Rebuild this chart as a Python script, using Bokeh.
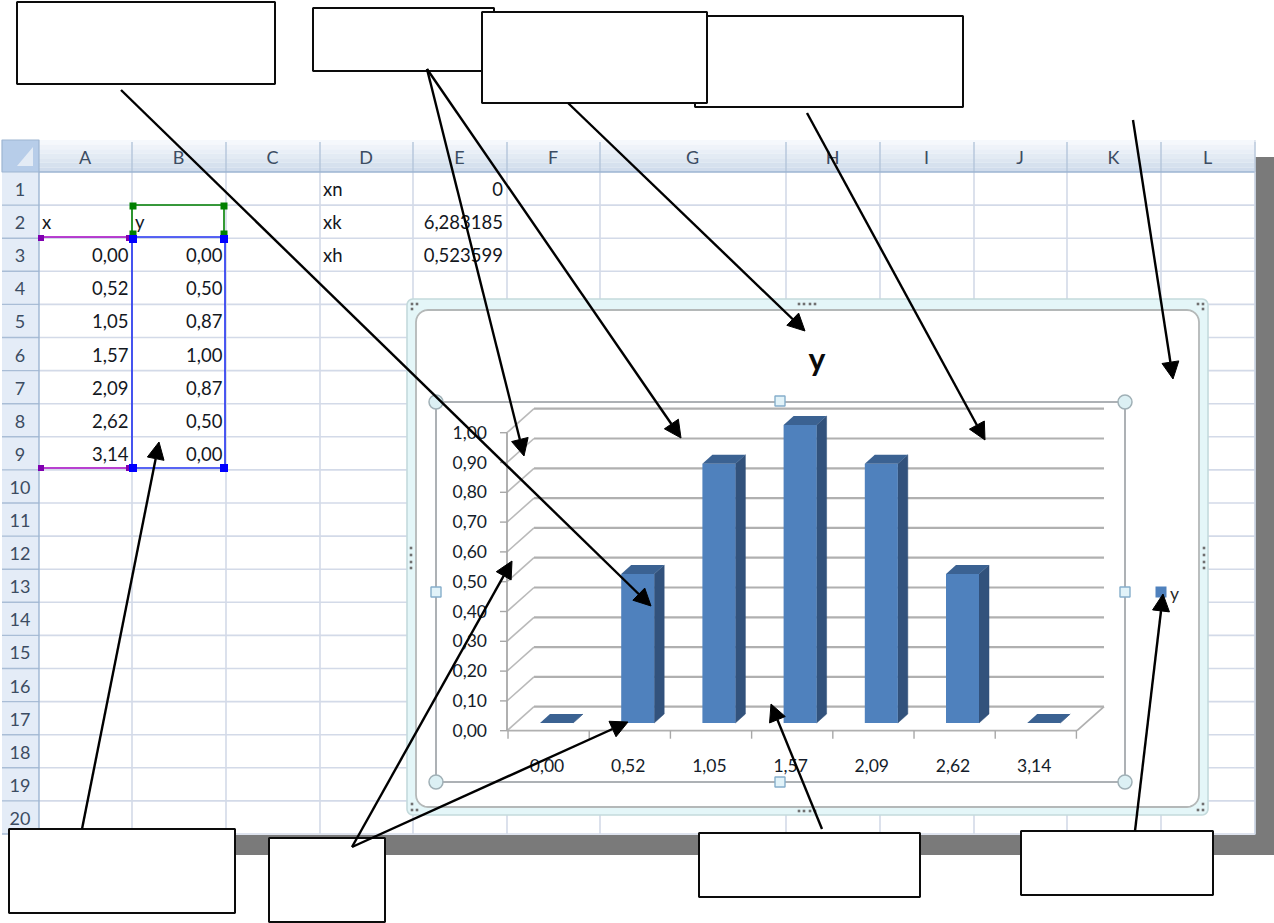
import math
from bokeh.plotting import figure
from bokeh.models import Range1d, Arrow, NormalHead
from bokeh.core.properties import value
from bokeh.embed import file_html
from bokeh.resources import INLINE

# ---------- data ----------
x_labels = ["0,00", "0,52", "1,05", "1,57", "2,09", "2,62", "3,14"]
y_labels = ["0,00", "0,50", "0,87", "1,00", "0,87", "0,50", "0,00"]
y_values = [0.00, 0.50, 0.87, 1.00, 0.87, 0.50, 0.00]
tick_values = [0.0, 0.1, 0.2, 0.3, 0.4, 0.5, 0.6, 0.7, 0.8, 0.9, 1.0]
tick_labels = ["0,00", "0,10", "0,20", "0,30", "0,40", "0,50", "0,60", "0,70", "0,80", "0,90", "1,00"]
col_names = ["A", "B", "C", "D", "E", "F", "G", "H", "I", "J", "K", "L"]
param_names = ["xn", "xk", "xh"]
param_values = ["0", "6,283185", "0,523599"]
series_name = "y"

# ---------- layout ----------
W, H = 1274, 923
S = 0.5  # half-pixel shift of the canvas
col_x = [39, 132, 226, 320, 413, 507, 600, 786, 880, 974, 1067, 1161, 1255]
row_y = [172 + 33.1 * i for i in range(21)]
FONT = value("Lato")

BAR_X0, BAR_STEP, BAR_W = 556.5, 81.2, 33
ZERO_Y, VAL_SCALE = 723, 298

p = figure(width=W, height=H, output_backend="svg", toolbar_location=None,
           x_range=Range1d(S, W + S), y_range=Range1d(H + S, S), min_border=0,
           outline_line_color=None, background_fill_color="white", border_fill_color="white")
p.styles = {"position": "absolute", "left": "0px", "top": "0px"}
p.xaxis.visible = False
p.yaxis.visible = False
p.xgrid.visible = False
p.ygrid.visible = False
p.extra_x_ranges = {"idx": Range1d((S - BAR_X0) / BAR_STEP, (W + S - BAR_X0) / BAR_STEP)}
p.extra_y_ranges = {"val": Range1d((ZERO_Y - H - S) / VAL_SCALE, (ZERO_Y - S) / VAL_SCALE)}


def rounded(x0, y0, x1, y1, r):
    xs, ys = [], []
    for cx, cy, a0 in [(x1 - r, y0 + r, -90), (x1 - r, y1 - r, 0), (x0 + r, y1 - r, 90), (x0 + r, y0 + r, 180)]:
        for k in range(7):
            a = math.radians(a0 + 15 * k)
            xs.append(cx + r * math.cos(a))
            ys.append(cy + r * math.sin(a))
    return xs, ys


# ---------- sheet ----------
p.quad(left=[1255, 20], right=[1275, 1255], top=[157, 835], bottom=[855, 855], fill_color="#7a7a7a", line_color=None)

GRID = "#d3dae8"
p.segment(x0=col_x[1:], x1=col_x[1:], y0=172, y1=834, line_color=GRID, line_width=1.6)
p.segment(x0=39, x1=1255, y0=row_y[1:], y1=row_y[1:], line_color=GRID, line_width=1.6)

# header band
bands = ["#f5f8fc", "#eff3f9", "#e9eff7", "#e3ebf4", "#dde6f1", "#d6e1ee", "#d0dcec"]
bh = 32 / len(bands)
p.quad(left=39, right=1255, top=[140 + i * bh for i in range(len(bands))],
       bottom=[140 + (i + 1) * bh for i in range(len(bands))], fill_color=bands, line_color=None)
p.segment(x0=col_x[1:], x1=col_x[1:], y0=142, y1=172, line_color="#b4c5da", line_width=1.4)
p.segment(x0=2, x1=1255, y0=172, y1=172, line_color="#9db5d2", line_width=1.6)
# row header
p.quad(left=2, right=39, top=172, bottom=834, fill_color="#e4ecf7", line_color=None)
p.segment(x0=2, x1=39, y0=row_y[1:], y1=row_y[1:], line_color="#a9bdd6", line_width=1.4)
p.segment(x0=39, x1=39, y0=172, y1=834, line_color="#9db5d2", line_width=1.4)
# corner
p.quad(left=2, right=39, top=140, bottom=172, fill_color="#b7cde9", line_color="#9db5d2", line_width=1.2)
p.patch(x=[17, 33, 33], y=[166, 147, 166], fill_color="#e3ebf5", line_color=None)
p.segment(x0=1255, x1=1255, y0=140, y1=835, line_color="#c8d3e2", line_width=1)

p.text(x=[(col_x[i] + col_x[i + 1]) / 2 - 0.5 for i in range(12)], y=157, text=col_names, text_font=FONT,
       text_font_size="18px", text_color="#3c4c62", text_align="center", text_baseline="middle")
p.text(x=20, y=[row_y[i] + 17.5 for i in range(20)], text=[str(i + 1) for i in range(20)], text_font=FONT,
       text_font_size="18px", text_color="#3c4c62", text_align="center", text_baseline="middle")

# cells
CELL = "#14181e"
p.text(x=[42, 135], y=row_y[1] + 17, text=["x", series_name], text_font=FONT, text_font_size="18.5px",
       text_color=CELL, text_align="left", text_baseline="middle")
p.text(x=128.5, y=[row_y[2 + i] + 17 for i in range(7)], text=x_labels, text_font=FONT, text_font_size="18.5px",
       text_color=CELL, text_align="right", text_baseline="middle")
p.text(x=222.5, y=[row_y[2 + i] + 17 for i in range(7)], text=y_labels, text_font=FONT, text_font_size="18.5px",
       text_color=CELL, text_align="right", text_baseline="middle")
p.text(x=323, y=[row_y[i] + 17 for i in range(3)], text=param_names, text_font=FONT, text_font_size="18.5px",
       text_color=CELL, text_align="left", text_baseline="middle")
p.text(x=503, y=[row_y[i] + 17 for i in range(3)], text=param_values, text_font=FONT, text_font_size="18.5px",
       text_color=CELL, text_align="right", text_baseline="middle")

# reference highlights
p.segment(x0=[132, 224, 132], x1=[224, 224, 132], y0=[205, 205, 205], y1=[205, 237, 237], line_color="#008000", line_width=1.6)
p.scatter(x=[133, 224, 133, 224], y=[206, 206, 234, 234], marker="square", size=7, fill_color="#008000", line_color=None)
p.segment(x0=40, x1=132, y0=[237, 468], y1=[237, 468], line_color="#a000c0", line_width=1.6)
p.scatter(x=[41, 129, 41, 129], y=[238, 238, 468, 468], marker="square", size=6, fill_color="#8000b0", line_color=None)
p.segment(x0=[132, 225, 132, 132], x1=[132, 225, 225, 225], y0=[237, 237, 237, 468], y1=[468, 468, 237, 468],
          line_color="#2030f0", line_width=1.6)
p.scatter(x=[133, 224, 133, 224], y=[239, 239, 468, 468], marker="square", size=8, fill_color="#0000ff", line_color=None)

# ---------- chart frame ----------
ox, oy = rounded(407, 299, 1208, 815, 6)
p.patch(x=ox, y=oy, fill_color="#e4f6f8", line_color="#c4dadc", line_width=1.6)
ix, iy = rounded(416, 310, 1199, 807, 12)
p.patch(x=ix, y=iy, fill_color="white", line_color="#b4b8b8", line_width=1.8)
dots_x = [799, 804, 810, 815, 799, 804, 810, 815, 411, 411, 411, 411, 1204, 1204, 1204, 1204,
          412, 417, 412, 1198, 1203, 1203, 412, 412, 417, 1198, 1203, 1203]
dots_y = [304, 304, 304, 304, 811, 811, 811, 811, 548, 555, 562, 568, 548, 555, 562, 568,
          304, 304, 309, 304, 304, 309, 804, 810, 810, 810, 810, 804]
p.scatter(x=dots_x, y=dots_y, marker="square", size=2.6, fill_color="#707070", line_color=None)

# plot-area selection
SEL = "#adb1b5"
p.segment(x0=[436, 1125, 436, 436], x1=[436, 1125, 1125, 1125], y0=[402, 402, 402, 782], y1=[782, 782, 402, 782],
          line_color=SEL, line_width=2)

# ---------- chart: walls, axes, bars ----------
AX_OFF = (730.7 - ZERO_Y) / VAL_SCALE   # front axis plane, in value units
BK_OFF = (ZERO_Y - 706.7) / VAL_SCALE   # back wall plane, in value units
FL = dict(y_range_name="val")

p.segment(x0=534, x1=1104, y0=[t + BK_OFF for t in tick_values], y1=[t + BK_OFF for t in tick_values],
          line_color="#b0b0b0", line_width=2.2, **FL)
p.segment(x0=507, x1=534, y0=[t - AX_OFF for t in tick_values], y1=[t + BK_OFF for t in tick_values],
          line_color="#bababa", line_width=1.6, **FL)
p.segment(x0=500, x1=507, y0=[t - AX_OFF for t in tick_values], y1=[t - AX_OFF for t in tick_values],
          line_color="#a8a8a8", line_width=1.4, **FL)
p.segment(x0=507, x1=507, y0=tick_values[0] - AX_OFF, y1=tick_values[-1] - AX_OFF, line_color="#a8a8a8", line_width=1.8, **FL)
p.segment(x0=[507, 1077], x1=[1077, 1104], y0=[-AX_OFF, -AX_OFF], y1=[-AX_OFF, BK_OFF], line_color="#b0b0b0", line_width=1.8, **FL)

n = len(y_values)
hw = BAR_W / 2 / BAR_STEP
dx = 10 / BAR_STEP
dy = 9 / VAL_SCALE
V = dict(x_range_name="idx", y_range_name="val")
idx = list(range(n))
p.segment(x0=[i - 0.597 for i in range(n + 1)], x1=[i - 0.597 for i in range(n + 1)], y0=-AX_OFF,
          y1=-AX_OFF - 8 / VAL_SCALE, line_color="#a8a8a8", line_width=1.4, **V)
p.patches(xs=[[i + hw, i + hw + dx, i + hw + dx, i + hw] for i in idx],
          ys=[[0, dy, y_values[i] + dy, y_values[i]] for i in idx],
          fill_color="#32527c", line_color="#32527c", line_width=0.5, **V)
p.vbar(x=idx, width=2 * hw, bottom=0, top=y_values, fill_color="#4f81bd", line_color=None, **V)
p.patches(xs=[[i - hw, i + hw, i + hw + dx, i - hw + dx] for i in idx],
          ys=[[y_values[i], y_values[i], y_values[i] + dy, y_values[i] + dy] for i in idx],
          fill_color="#3b6292", line_color=None, **V)

p.text(x=487, y=[t - AX_OFF + 0.5 / VAL_SCALE for t in tick_values], text=tick_labels, text_font=FONT, text_font_size="17.5px",
       text_color="#141c2a", text_align="right", text_baseline="middle", **FL)
p.text(x=[i - 0.117 for i in idx], y=-AX_OFF - 35 / VAL_SCALE, text=x_labels, text_font=FONT, text_font_size="17.5px",
       text_color="#141c2a", text_align="center", text_baseline="middle", **V)

# selection handles
p.scatter(x=[436, 1125, 436, 1125], y=[402, 402, 782, 782], marker="circle", size=14, fill_color="#dcf0f4",
          line_color="#a0b0b6", line_width=1.5)
p.scatter(x=[780, 780, 436, 1125], y=[401, 782, 592, 592], marker="square", size=10, fill_color="#e2f3f9",
          line_color="#86aecb", line_width=1.4)

# title, legend
p.text(x=817, y=358, text=[series_name], text_font=FONT, text_font_size="32px", text_font_style="bold",
       text_color="#0a0a0a", text_align="center", text_baseline="middle")
p.scatter(x=1161, y=592, marker="square", size=11, fill_color="#4f81bd", line_color=None)
p.text(x=1170, y=593, text=[series_name], text_font=FONT, text_font_size="17.5px", text_color="#2a2a2a",
       text_align="left", text_baseline="middle")

# ---------- callout boxes ----------
p.quad(left=[695, 313, 482, 17, 9, 269, 699, 1021], right=[963, 494, 707, 275, 235, 385, 920, 1213],
       top=[16, 8, 12, 2, 829, 838, 833, 831], bottom=[107, 71, 103, 84, 913, 922, 897, 895],
       fill_color="white", line_color="#0c0c0c", line_width=2)

arrows = [(121, 90, 651, 606), (427, 69, 524, 456), (427, 69, 681, 438), (568, 103, 805, 331),
          (807, 113, 985, 440), (1133, 120, 1173, 379), (82, 829, 159, 442), (352, 847, 512, 561),
          (352, 847, 628, 722), (822, 829, 771, 704), (1135, 831, 1163, 594)]
for a in arrows:
    p.add_layout(Arrow(end=NormalHead(size=17, fill_color="black", line_color="black", line_width=1),
                       x_start=a[0], y_start=a[1], x_end=a[2], y_end=a[3], line_color="black", line_width=2.4))

open("out.html", "w").write(file_html(p, INLINE))
